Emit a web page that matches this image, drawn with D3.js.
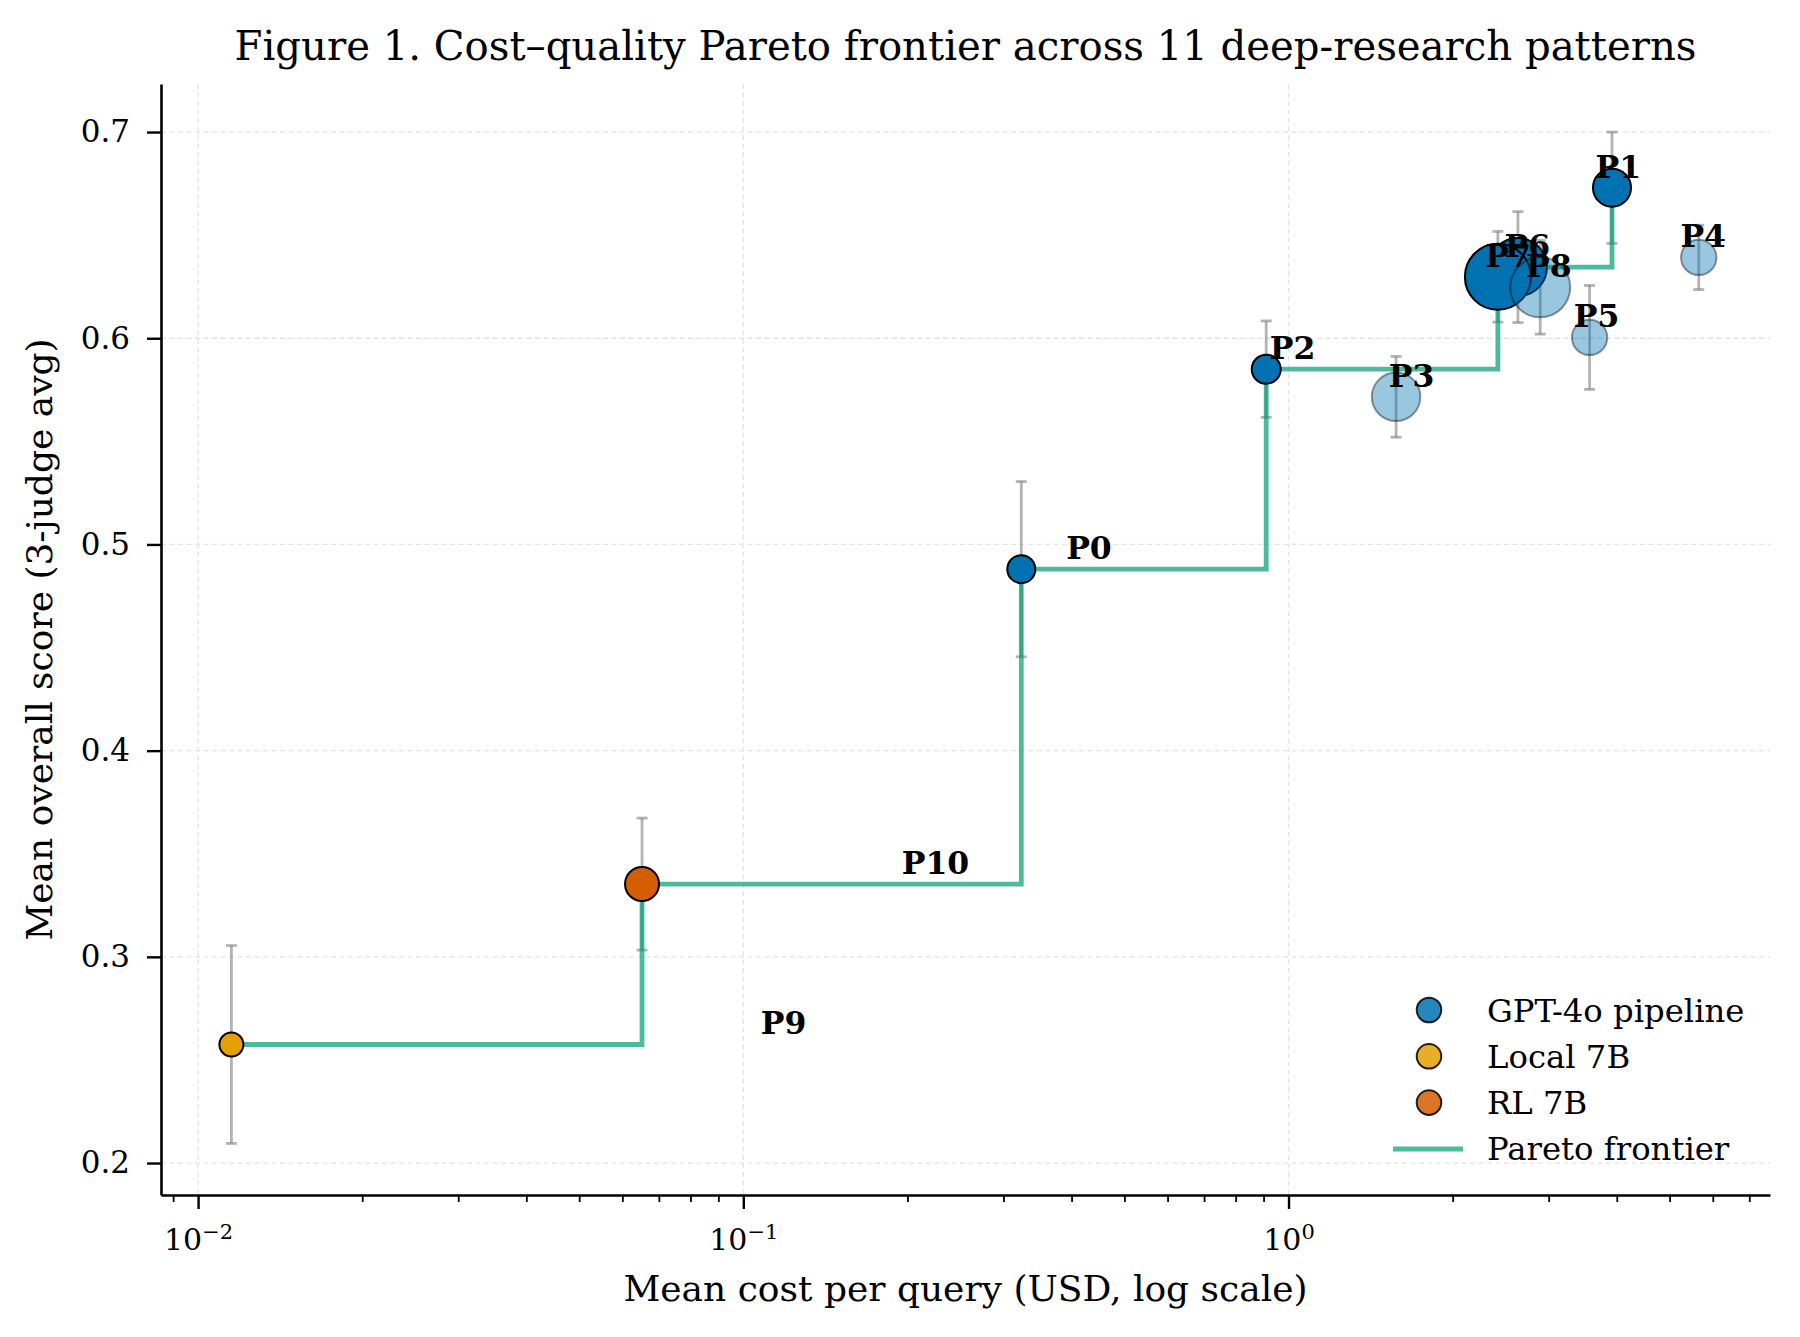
<!DOCTYPE html>
<html>
<head>
<meta charset="utf-8">
<script src="https://cdn.jsdelivr.net/npm/d3@7"></script>
<style>
  body { margin: 0; background: #fff; }
  svg text { font-family: "DejaVu Serif", serif; fill: #000; }
</style>
</head>
<body>
<div id="chart"></div>
<script>
// Data
const patterns   = ["P0", "P1", "P2", "P3", "P4", "P5", "P6", "P7", "P8", "P9", "P10"];
const groups     = ["GPT-4o pipeline", "GPT-4o pipeline", "GPT-4o pipeline", "GPT-4o pipeline",
                    "GPT-4o pipeline", "GPT-4o pipeline", "GPT-4o pipeline", "GPT-4o pipeline",
                    "GPT-4o pipeline", "Local 7B", "RL 7B"];
const meanCost   = [0.3235, 3.92, 0.910, 1.575, 5.655, 3.566, 2.635, 2.421, 2.895, 0.01151, 0.0652];
const meanScore  = [0.488, 0.673, 0.585, 0.5716, 0.6392, 0.6004, 0.6345, 0.6298, 0.6247, 0.2575, 0.3353];
const scoreErr   = [0.0425, 0.027, 0.0234, 0.0196, 0.0156, 0.0252, 0.0269, 0.022, 0.0227, 0.048, 0.032];
// relative bubble area
const bubbleSize = [196, 361, 210, 590, 313, 313, 841, 1089, 900, 144, 289];
// label x shift (USD) used for the annotations
const labelShift = [0.107, 0.107, 0.107, 0.107, 0.107, 0.107, 0.107, 0.107, 0.107, 0.107, 0.16];

const legendGroups = ["GPT-4o pipeline", "Local 7B", "RL 7B"];
const groupColors  = ["#0072B2", "#E69F00", "#D55E00"];
const frontierColor = "#009E73";

const xMajor = [0.01, 0.1, 1];
const xMajorExp = ["\u22122", "\u22121", "0"];
const yTicks = [0.2, 0.3, 0.4, 0.5, 0.6, 0.7];

const W = 1800, H = 1337;
const margin = { top: 84, right: 30, bottom: 142, left: 161 },
    width = W - margin.left - margin.right,
    height = H - margin.top - margin.bottom;

const svgRoot = d3.select("#chart").append("svg")
    .attr("width", W)
    .attr("height", H);

svgRoot.append("rect").attr("width", W).attr("height", H).attr("fill", "#fff");

const svg = svgRoot.append("g")
    .attr("transform", `translate(${margin.left},${margin.top})`);

const data = patterns.map((p, i) => ({
    name: p, group: groups[i], cost: meanCost[i], score: meanScore[i],
    err: scoreErr[i], size: bubbleSize[i], shift: labelShift[i]
}));

// Pareto frontier: increasing cost, strictly improving score
const sorted = data.slice().sort((a, b) => a.cost - b.cost);
const frontier = [];
let best = -Infinity;
sorted.forEach(d => { if (d.score > best) { frontier.push(d); best = d.score; } });
const onFrontier = new Set(frontier.map(d => d.name));

const x = d3.scaleLog().domain([0.00855, 7.64]).range([0, width]);
const y = d3.scaleLinear().domain([0.1845, 0.7233]).range([height, 0]);
const r = d3.scaleSqrt().domain([0, d3.max(bubbleSize)]).range([0, 33]);
const color = d3.scaleOrdinal().domain(legendGroups).range(groupColors);

// grid
const grid = svg.append("g").attr("stroke", "#e3e3e3").attr("stroke-width", 1.3)
    .attr("stroke-dasharray", "5,3.5");
grid.selectAll(".gx").data(xMajor).enter().append("line")
    .attr("x1", d => x(d)).attr("x2", d => x(d)).attr("y1", 0).attr("y2", height);
grid.selectAll(".gy").data(yTicks).enter().append("line")
    .attr("y1", d => y(d)).attr("y2", d => y(d)).attr("x1", 0).attr("x2", width);

// minor x ticks
const minor = [];
[-3, -2, -1, 0].forEach(e => {
    for (let k = 2; k <= 9; k++) {
        const v = k * Math.pow(10, e);
        if (v >= x.domain()[0] && v <= x.domain()[1]) minor.push(v);
    }
});
svg.append("g")
    .attr("transform", `translate(0,${height})`)
    .call(d3.axisBottom(x).tickValues(minor).tickFormat("").tickSize(7).tickSizeOuter(0))
    .call(g => g.select(".domain").remove())
    .call(g => g.selectAll(".tick line").attr("stroke-width", 1.8));

// major x axis
const xAxis = svg.append("g")
    .attr("transform", `translate(0,${height})`)
    .call(d3.axisBottom(x).tickValues(xMajor).tickFormat("").tickSize(14).tickSizeOuter(0));
xAxis.select(".domain").attr("stroke-width", 2.6);
xAxis.selectAll(".tick line").attr("stroke-width", 2.4);
xAxis.selectAll(".tick").append("text")
    .attr("y", 55)
    .attr("text-anchor", "middle")
    .attr("font-size", 30)
    .attr("fill", "#000")
    .each(function(d, i) {
        const t = d3.select(this);
        t.append("tspan").text("10");
        t.append("tspan").attr("font-size", 21).attr("dy", -11).text(xMajorExp[i]);
    });

// y axis
const yAxis = svg.append("g")
    .call(d3.axisLeft(y).tickValues(yTicks).tickFormat(d3.format(".1f"))
        .tickSize(14).tickPadding(17).tickSizeOuter(0));
yAxis.select(".domain").attr("stroke-width", 2.6);
yAxis.selectAll(".tick line").attr("stroke-width", 2.4);
yAxis.selectAll(".tick text").attr("font-size", 31).attr("font-family", "DejaVu Serif");

// error bars
const eb = svg.append("g").attr("stroke", "#808080").attr("stroke-opacity", 0.6).attr("stroke-width", 2.8);
data.forEach(d => {
    const cx = x(d.cost), y0 = y(d.score - d.err), y1 = y(d.score + d.err);
    eb.append("line").attr("x1", cx).attr("x2", cx).attr("y1", y0).attr("y2", y1);
    eb.append("line").attr("x1", cx - 5.5).attr("x2", cx + 5.5).attr("y1", y0).attr("y2", y0);
    eb.append("line").attr("x1", cx - 5.5).attr("x2", cx + 5.5).attr("y1", y1).attr("y2", y1);
});

// frontier
svg.append("path")
    .datum(frontier)
    .attr("fill", "none")
    .attr("stroke", frontierColor)
    .attr("stroke-opacity", 0.7)
    .attr("stroke-width", 4.8)
    .attr("d", d3.line().x(d => x(d.cost)).y(d => y(d.score)).curve(d3.curveStepAfter));

// points
svg.append("g").selectAll("circle")
    .data(data)
    .enter()
    .append("circle")
    .attr("cx", d => x(d.cost))
    .attr("cy", d => y(d.score))
    .attr("r", d => r(d.size))
    .attr("fill", d => color(d.group))
    .attr("fill-opacity", d => onFrontier.has(d.name) ? 1 : 0.4)
    .attr("stroke", "#000")
    .attr("stroke-opacity", d => onFrontier.has(d.name) ? 1 : 0.4)
    .attr("stroke-width", 2);

// labels
svg.append("g").selectAll("text")
    .data(data)
    .enter()
    .append("text")
    .attr("x", d => x(d.cost + d.shift))
    .attr("y", d => y(d.score) - 10)
    .attr("text-anchor", "middle")
    .attr("font-size", 31.5)
    .attr("font-weight", "bold")
    .text(d => d.name);

// title and axis labels
svgRoot.append("text")
    .attr("x", margin.left + width / 2).attr("y", 60)
    .attr("text-anchor", "middle").attr("font-size", 40.2)
    .text("Figure 1. Cost\u2013quality Pareto frontier across 11 deep-research patterns");

svgRoot.append("text")
    .attr("x", margin.left + width / 2).attr("y", 1301)
    .attr("text-anchor", "middle").attr("font-size", 36)
    .text("Mean cost per query (USD, log scale)");

svgRoot.append("text")
    .attr("transform", `translate(52,${margin.top + height / 2}) rotate(-90)`)
    .attr("text-anchor", "middle").attr("font-size", 36)
    .text("Mean overall score (3-judge avg)");

// legend
const legend = svgRoot.append("g").attr("transform", "translate(1429,1010)");
legendGroups.forEach((g, i) => {
    const row = legend.append("g").attr("transform", `translate(0,${i * 46.3})`);
    row.append("circle").attr("r", 12.3).attr("fill", color(g)).attr("fill-opacity", 0.85)
        .attr("stroke", "#000").attr("stroke-opacity", 0.85).attr("stroke-width", 2);
    row.append("text").attr("x", 58).attr("y", 11.5).attr("font-size", 32.3).text(g);
});
const lrow = legend.append("g").attr("transform", `translate(0,${3 * 46.3})`);
lrow.append("line").attr("x1", -36).attr("x2", 34).attr("stroke", frontierColor)
    .attr("stroke-opacity", 0.7).attr("stroke-width", 5);
lrow.append("text").attr("x", 58).attr("y", 11.5).attr("font-size", 32.3).text("Pareto frontier");
</script>
</body>
</html>
